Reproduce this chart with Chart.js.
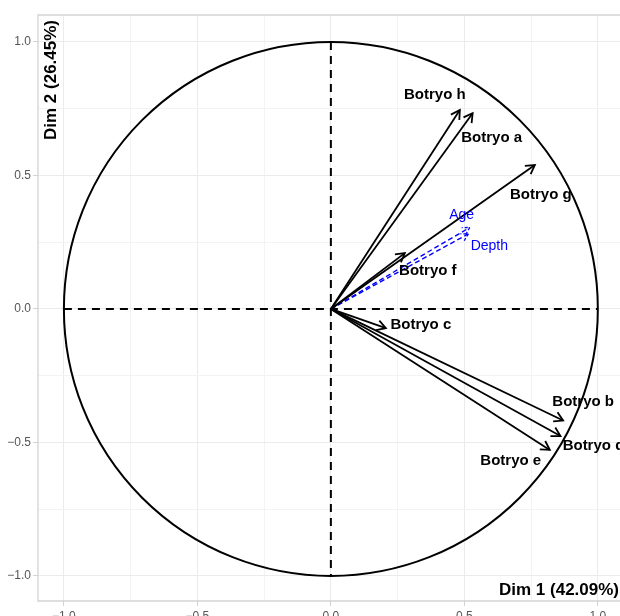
<!DOCTYPE html>
<html>
<head>
<meta charset="utf-8">
<script src="https://cdn.jsdelivr.net/npm/chart.js@4.4.1/dist/chart.umd.min.js"></script>
<style>
  html, body { margin: 0; padding: 0; background: #fff; overflow: hidden; }
  #wrap { width: 620px; height: 616px; }
</style>
</head>
<body>
<div id="wrap"><canvas id="pcaChart" width="620" height="616"></canvas></div>
<script>
// active variables (coordinates on Dim 1 / Dim 2)
const varNames = ['Botryo a', 'Botryo b', 'Botryo c', 'Botryo d', 'Botryo e', 'Botryo f', 'Botryo g', 'Botryo h'];
const dim1 = [0.531, 0.870, 0.206, 0.860, 0.820, 0.277, 0.764, 0.483];
const dim2 = [0.733, -0.418, -0.072, -0.476, -0.528, 0.209, 0.539, 0.745];

// supplementary variables
const supNames = ['Age', 'Depth'];
const supDim1 = [0.520, 0.515];
const supDim2 = [0.305, 0.281];

const tickValues = [-1, -0.75, -0.5, -0.25, 0, 0.25, 0.5, 0.75, 1];
const xTitle = 'Dim 1 (42.09%)';
const yTitle = 'Dim 2 (26.45%)';

// label placement, pixel offsets from the arrow tip
const labelOffsets = {
    'Botryo a': [19, 25], 'Botryo b': [20, -19], 'Botryo c': [35, -3], 'Botryo d': [33, 10],
    'Botryo e': [-39, 11], 'Botryo f': [23, 18], 'Botryo g': [6, 30], 'Botryo h': [-25, -15],
    'Age': [-8, -12], 'Depth': [21, 12]
};

const FONT = '"Liberation Sans", Arial, Helvetica, sans-serif';

const datasets = [];
varNames.forEach((name, i) => {
    datasets.push({
        label: name,
        data: [{x: 0, y: 0}, {x: dim1[i], y: dim2[i]}],
        showLine: true,
        borderColor: '#000',
        borderWidth: 1.8,
        pointRadius: 0,
        arrowColor: '#000'
    });
});
supNames.forEach((name, i) => {
    datasets.push({
        label: name,
        data: [{x: 0, y: 0}, {x: supDim1[i], y: supDim2[i]}],
        showLine: true,
        borderColor: '#0000FF',
        borderWidth: 1.4,
        borderDash: [5, 3],
        pointRadius: 0,
        arrowColor: '#0000FF',
        supplementary: true
    });
});

const circlePlugin = {
    id: 'circle',
    beforeDatasetsDraw(chart) {
        const {ctx, chartArea, scales: {x, y}} = chart;
        const cx = x.getPixelForValue(0), cy = y.getPixelForValue(0);
        const r = x.getPixelForValue(1) - cx;
        ctx.save();
        // panel border
        ctx.strokeStyle = '#D3D3D3';
        ctx.lineWidth = 1.3;
        ctx.beginPath();
        ctx.moveTo(chartArea.right + 2, chartArea.top);
        ctx.lineTo(chartArea.left, chartArea.top);
        ctx.lineTo(chartArea.left, chartArea.bottom);
        ctx.lineTo(chartArea.right + 2, chartArea.bottom);
        ctx.stroke();
        // correlation circle
        ctx.strokeStyle = '#000';
        ctx.lineWidth = 2;
        ctx.beginPath();
        ctx.arc(cx, cy, r, 0, Math.PI * 2);
        ctx.stroke();
        // dashed axes
        ctx.setLineDash([8, 6]);
        ctx.beginPath();
        ctx.moveTo(x.getPixelForValue(-1), cy);
        ctx.lineTo(x.getPixelForValue(1), cy);
        ctx.moveTo(cx, y.getPixelForValue(1));
        ctx.lineTo(cx, y.getPixelForValue(-1));
        ctx.stroke();
        ctx.restore();
    },
    afterDatasetsDraw(chart) {
        const {ctx, chartArea, scales: {x, y}} = chart;
        ctx.save();
        chart.data.datasets.forEach(ds => {
            const p = ds.data[1];
            const px = x.getPixelForValue(p.x), py = y.getPixelForValue(p.y);
            const ang = Math.atan2(py - y.getPixelForValue(0), px - x.getPixelForValue(0));
            const len = ds.supplementary ? 8 : 10, spread = Math.PI / 6;
            ctx.strokeStyle = ds.arrowColor;
            ctx.lineWidth = ds.supplementary ? 1.3 : 1.8;
            ctx.setLineDash(ds.supplementary ? [3, 2] : []);
            ctx.beginPath();
            ctx.moveTo(px - len * Math.cos(ang - spread), py - len * Math.sin(ang - spread));
            ctx.lineTo(px, py);
            ctx.lineTo(px - len * Math.cos(ang + spread), py - len * Math.sin(ang + spread));
            ctx.stroke();
            // label
            const off = labelOffsets[ds.label] || [0, 0];
            ctx.setLineDash([]);
            ctx.textAlign = 'center';
            ctx.textBaseline = 'middle';
            if (ds.supplementary) {
                ctx.font = '14px ' + FONT;
                ctx.fillStyle = '#0000FF';
            } else {
                ctx.font = 'bold 15px ' + FONT;
                ctx.fillStyle = '#000';
            }
            ctx.fillText(ds.label, px + off[0], py + off[1]);
        });
        // axis titles inside the panel
        ctx.fillStyle = '#000';
        ctx.font = 'bold 17px ' + FONT;
        ctx.textAlign = 'right';
        ctx.textBaseline = 'middle';
        ctx.fillText(xTitle, 619, 590);
        ctx.translate(51, chartArea.top + 5);
        ctx.rotate(-Math.PI / 2);
        ctx.textAlign = 'right';
        ctx.fillText(yTitle, 0, 0);
        ctx.restore();
    }
};

const isMajor = v => Math.abs(v * 2 - Math.round(v * 2)) < 1e-6;
const fmt = v => v.toFixed(1).replace('-', '\u2212');

new Chart(document.getElementById('pcaChart').getContext('2d'), {
    type: 'scatter',
    data: { datasets: datasets },
    options: {
        responsive: false,
        animation: false,
        layout: { padding: { top: 15, right: 0, left: 0, bottom: 0 } },
        plugins: {
            legend: { display: false },
            tooltip: { enabled: false }
        },
        scales: {
            x: {
                type: 'linear',
                min: -1.097,
                max: 1.083,
                afterBuildTicks: s => { s.ticks = tickValues.map(v => ({value: v})); },
                afterFit: s => { s.height = 15; },
                border: { display: false },
                grid: {
                    color: c => isMajor(c.tick.value) ? '#EBEBEB' : '#F3F3F3',
                    tickColor: c => isMajor(c.tick.value) ? '#D3D3D3' : 'rgba(0,0,0,0)',
                    tickLength: 5
                },
                ticks: {
                    padding: 3,
                    color: '#555',
                    font: { family: FONT, size: 12 },
                    maxRotation: 0,
                    autoSkip: false,
                    callback: v => isMajor(v) ? fmt(v) : ''
                }
            },
            y: {
                type: 'linear',
                min: -1.094,
                max: 1.101,
                afterBuildTicks: s => { s.ticks = tickValues.map(v => ({value: v})); },
                afterFit: s => { s.width = 38; },
                border: { display: false },
                grid: {
                    color: c => isMajor(c.tick.value) ? '#EBEBEB' : '#F3F3F3',
                    tickColor: c => isMajor(c.tick.value) ? '#D3D3D3' : 'rgba(0,0,0,0)',
                    tickLength: 5
                },
                ticks: {
                    padding: 2,
                    color: '#555',
                    font: { family: FONT, size: 12 },
                    autoSkip: false,
                    callback: v => isMajor(v) ? fmt(v) : ''
                }
            }
        }
    },
    plugins: [circlePlugin]
});
</script>
</body>
</html>
